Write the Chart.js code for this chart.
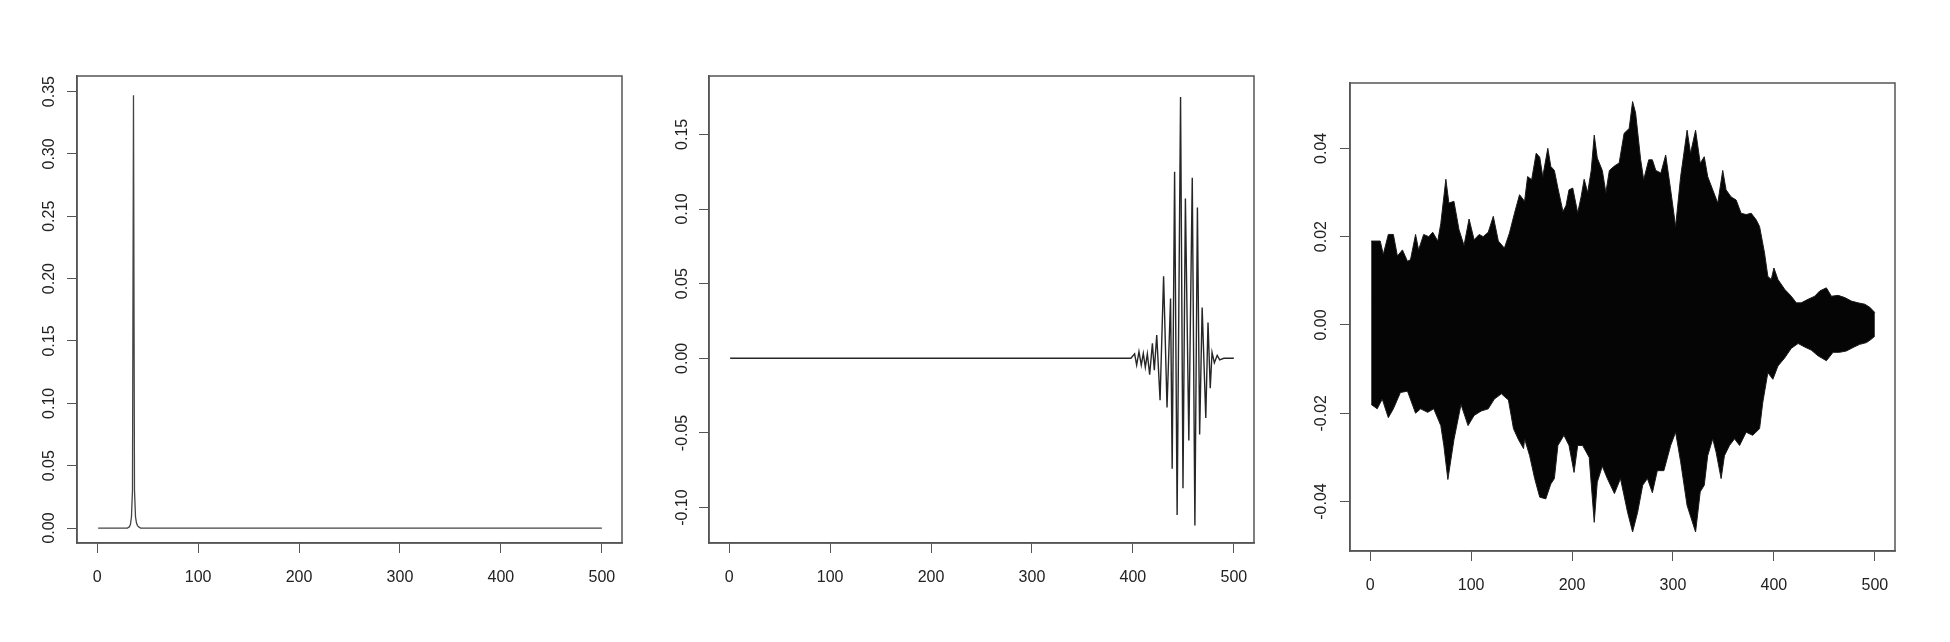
<!DOCTYPE html>
<html>
<head>
<meta charset="utf-8">
<script src="https://cdn.jsdelivr.net/npm/chart.js@4"></script>
<style>
  html, body { margin: 0; padding: 0; background: #fff; }
  body { width: 1950px; height: 642px; position: relative; overflow: hidden; }
  canvas { position: absolute; }
</style>
</head>
<body>
<canvas id="p1"></canvas>
<canvas id="p2"></canvas>
<canvas id="p3"></canvas>
<script>
// shared x axis
const xTicks = [0, 100, 200, 300, 400, 500];
const xTickLabels = ['0', '100', '200', '300', '400', '500'];

// panel 1: single narrow spike
const p1X = [1, 30, 31, 32, 33, 34, 35, 36, 37, 38, 39, 40, 41, 42, 43, 500];
const p1Y = [0, 0, 0.0005, 0.001, 0.003, 0.009, 0.03, 0.347, 0.03, 0.009, 0.004, 0.002, 0.001, 0.0005, 0, 0];
const p1YTicks = [0, 0.05, 0.10, 0.15, 0.20, 0.25, 0.30, 0.35];
const p1YTickLabels = ['0.00', '0.05', '0.10', '0.15', '0.20', '0.25', '0.30', '0.35'];

// panel 2: wave packet near the end
const p2X = [1, 398, 401.7, 403.7, 406, 408.3, 410.3, 412.3, 414.3, 416.6, 419.3, 421.2, 423.6, 426.9,
  430.4, 433.8, 437.3, 438.9, 441.3, 443.8, 447.2, 449.6, 452, 455.4, 458.8, 461.4, 463.9, 466.1,
  468.6, 472.2, 474.4, 476.6, 478.4, 480.7, 483.5, 486, 490, 500];
const p2Y = [0, 0, 0.003, -0.0045, 0.0045, -0.0045, 0.0033, -0.006, 0.003, -0.011, 0.010, -0.008, 0.0156, -0.028,
  0.055, -0.033, 0.040, -0.074, 0.125, -0.105, 0.175, -0.087, 0.107, -0.055, 0.121, -0.112, 0.101, -0.051,
  0.034, -0.040, 0.024, -0.020, 0.004, -0.003, 0.002, -0.001, 0, 0];
const p2YTicks = [-0.10, -0.05, 0, 0.05, 0.10, 0.15];
const p2YTickLabels = ['-0.10', '-0.05', '0.00', '0.05', '0.10', '0.15'];

// panel 3: dense signal, drawn as its upper and lower envelope
const p3UpperX = [1, 10, 13, 18, 23, 27, 32, 37, 40, 45, 48, 53, 58, 62, 67, 70, 75, 78, 83, 88, 93, 98,
  103, 108, 112, 117, 122, 127, 133, 138, 143, 148, 153, 156, 160, 164.5, 168, 171, 176, 179, 182.5, 186,
  191, 194, 197, 200.7, 205.6, 209, 212, 215.5, 219, 222, 225, 230, 233.5, 237, 242, 246.7, 251.6, 256.6,
  260, 263, 268, 271, 276, 279.6, 283, 288, 292.8, 297.7, 302.6, 307.6, 314, 317.4, 322.4, 327, 331,
  334.4, 339.4, 344.4, 349.3, 352.6, 357.6, 362.6, 367.5, 372.5, 377.5, 382.5, 385.8, 390.7, 394, 397.4,
  400, 404, 410.6, 417.2, 422.2, 427, 433.8, 440.4, 445.4, 452, 457, 463.6, 470.2, 476.8, 483.4, 490, 495, 500];
const p3UpperY = [0.019, 0.019, 0.016, 0.0205, 0.0205, 0.0156, 0.017, 0.0144, 0.0148, 0.0205, 0.017, 0.0205,
  0.020, 0.021, 0.019, 0.023, 0.033, 0.0276, 0.028, 0.0216, 0.018, 0.024,
  0.0193, 0.0205, 0.020, 0.021, 0.0246, 0.019, 0.0174, 0.0208, 0.0253, 0.0295, 0.028, 0.0336, 0.0329,
  0.0389, 0.038, 0.0336, 0.040, 0.0359, 0.035, 0.031,
  0.0257, 0.027, 0.0306, 0.031, 0.0254, 0.029, 0.033, 0.030, 0.035, 0.043, 0.0378, 0.035, 0.030, 0.035,
  0.036, 0.0367, 0.0434, 0.0445,
  0.0506, 0.048, 0.0374, 0.0329, 0.0374, 0.0374, 0.035, 0.0344, 0.0385, 0.0306, 0.0223, 0.0336, 0.0441,
  0.0389, 0.0441, 0.0366, 0.0381,
  0.0336, 0.0306, 0.0276, 0.035, 0.0306, 0.029, 0.0283, 0.0253, 0.025, 0.0253, 0.0238, 0.0223, 0.0163,
  0.011, 0.0103,
  0.0129, 0.0103, 0.0081, 0.0065, 0.005, 0.005, 0.0058, 0.0065, 0.0077, 0.0084, 0.0065, 0.0067, 0.0062,
  0.0054, 0.005, 0.0047, 0.004, 0.0028];
const p3LowerX = [1, 7, 12, 18, 23, 30, 37, 45, 50, 57, 63, 70, 73, 77, 83, 90, 97, 103, 110, 117, 123,
  130, 137, 142, 147, 152, 153, 158, 163, 168, 174, 179, 182.5, 186, 192, 197, 202, 205.6, 210.5, 217,
  222, 225, 230, 235, 242, 248, 255, 260, 265, 270, 274.7, 279.6, 284.5, 291, 297.7, 302.6, 307.6, 314,
  322.4, 327, 331, 334.4, 339.4, 342.7, 347.7, 351, 356, 361, 366, 372.5, 379, 385.8, 389, 394, 399,
  404, 410.6, 417.2, 424, 430.5, 437, 443.7, 452, 458.6, 465, 471.8, 478.5, 485, 491.7, 496.7, 500];
const p3LowerY = [-0.018, -0.019, -0.0168, -0.021, -0.019, -0.0153, -0.015, -0.020, -0.019, -0.0198,
  -0.019, -0.0228, -0.0273, -0.035, -0.026, -0.018, -0.0228, -0.0205, -0.0195, -0.019, -0.0168,
  -0.0156, -0.017, -0.0235, -0.026, -0.028, -0.0258, -0.0296, -0.0348, -0.039, -0.0394, -0.036,
  -0.0348, -0.0273, -0.025, -0.0273, -0.0334, -0.0273, -0.0273, -0.030,
  -0.0447, -0.0356, -0.032, -0.0348, -0.0382, -0.0348, -0.0424, -0.0469, -0.0424, -0.0363, -0.0348,
  -0.038, -0.033, -0.033, -0.0273, -0.0243, -0.031, -0.0409,
  -0.0469, -0.0378, -0.0363, -0.0296, -0.0258, -0.0288, -0.0348, -0.0296, -0.0273, -0.0258, -0.0273,
  -0.0243, -0.025, -0.0235, -0.0175, -0.0108, -0.0123,
  -0.0093, -0.0075, -0.0053, -0.0042, -0.005, -0.0057, -0.007, -0.0081, -0.0062, -0.0062, -0.0059,
  -0.0051, -0.0044, -0.004, -0.0032, -0.0025];
const p3YTicks = [-0.04, -0.02, 0, 0.02, 0.04];
const p3YTickLabels = ['-0.04', '-0.02', '0.00', '0.02', '0.04'];

const FONT = { family: "'Liberation Sans', Arial, sans-serif", size: 16 };
const TEXT = '#222';
const AXIS = '#555';

function pts(xs, ys) {
  return xs.map((x, i) => ({ x: x, y: ys[i] }));
}

// R-style box round the plot region
const plotBox = {
  id: 'plotBox',
  afterDatasetsDraw(chart) {
    const a = chart.chartArea;
    const ctx = chart.ctx;
    ctx.save();
    ctx.strokeStyle = AXIS;
    ctx.lineWidth = 1.5;
    ctx.strokeRect(a.left, a.top, a.right - a.left, a.bottom - a.top);
    ctx.restore();
  }
};

function makePanel(id, box, datasets, yMin, yMax, yTicks, yLabels, yPad) {
  const canvas = document.getElementById(id);
  canvas.width = box.w + 80;
  canvas.height = box.h + 70;
  canvas.style.left = (box.left - 70) + 'px';
  canvas.style.top = (box.top - 10) + 'px';

  return new Chart(canvas.getContext('2d'), {
    type: 'line',
    data: { datasets: datasets },
    options: {
      responsive: false,
      animation: false,
      layout: { padding: { left: 0, top: 10, right: 10, bottom: 0 } },
      plugins: { legend: { display: false }, tooltip: { enabled: false } },
      elements: { point: { radius: 0 }, line: { tension: 0 } },
      scales: {
        x: {
          type: 'linear',
          min: -19.96,
          max: 519.96,
          afterBuildTicks: s => { s.ticks = xTicks.map(v => ({ value: v })); },
          afterFit: s => { s.height = 60; s.paddingLeft = 0; s.paddingRight = 0; },
          ticks: {
            callback: (v, i) => xTickLabels[i],
            font: FONT, color: TEXT, padding: 15, maxRotation: 0, minRotation: 0
          },
          grid: { drawOnChartArea: false, drawTicks: true, tickLength: 10, color: AXIS, lineWidth: 1 },
          border: { display: true, color: AXIS, width: 1.5 }
        },
        y: {
          type: 'linear',
          min: yMin,
          max: yMax,
          afterBuildTicks: s => { s.ticks = yTicks.map(v => ({ value: v })); },
          afterFit: s => { s.width = 70; s.paddingTop = 0; s.paddingBottom = 0; },
          ticks: {
            callback: (v, i) => yLabels[i],
            font: FONT, color: TEXT, padding: yPad,
            minRotation: 90, maxRotation: 90, crossAlign: 'center'
          },
          grid: { drawOnChartArea: false, drawTicks: true, tickLength: 10, color: AXIS, lineWidth: 1 },
          border: { display: true, color: AXIS, width: 1.5 }
        }
      }
    },
    plugins: [plotBox]
  });
}

makePanel('p1', { left: 77, top: 76, w: 545, h: 467 }, [
  { data: pts(p1X, p1Y), borderColor: '#444', borderWidth: 1.3, fill: false }
], -0.012, 0.3625, p1YTicks, p1YTickLabels, 2);

makePanel('p2', { left: 709, top: 76, w: 545, h: 467 }, [
  { data: pts(p2X, p2Y), borderColor: '#262626', borderWidth: 1.4, fill: false }
], -0.1237, 0.1891, p2YTicks, p2YTickLabels, -2);

makePanel('p3', { left: 1350, top: 83, w: 545, h: 468 }, [
  { data: pts(p3UpperX, p3UpperY), borderColor: '#1a1a1a', borderWidth: 1, fill: false },
  { data: pts(p3LowerX, p3LowerY), borderColor: '#1a1a1a', borderWidth: 1, fill: '-1', backgroundColor: '#050505' }
], -0.0512, 0.0548, p3YTicks, p3YTickLabels, 0);
</script>
</body>
</html>
